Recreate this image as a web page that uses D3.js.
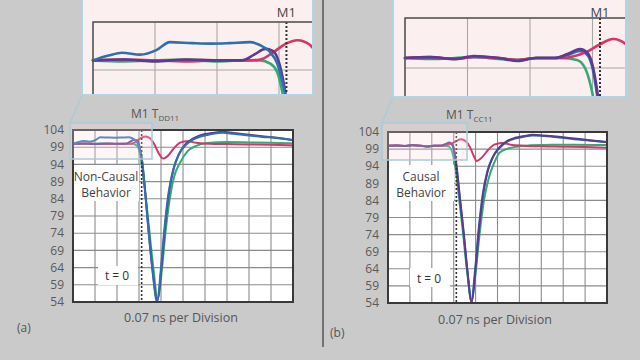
<!DOCTYPE html>
<html><head><meta charset="utf-8">
<script src="https://cdn.jsdelivr.net/npm/d3@7"></script>
<style>
body{margin:0;background:#cacaca;}
svg{display:block;font-family:"Open Sans",sans-serif;}
</style>
</head><body><svg width="640" height="360"></svg>
<script>
// ---------- data ----------
const yTicks = [104, 99, 94, 89, 84, 79, 74, 69, 64, 59, 54];
const divisions = [0, 1, 2, 3, 4, 5, 6, 7, 8, 9, 10];
const m1Division = 3.12;
const xAxisLabel = "0.07 ns per Division";

// (a) non-causal: [division, value]
const aBlue = [[0,100.0],[0.25,100.5],[0.47,100.8],[0.76,100.6],[1.03,101.1],[1.24,101.9],[1.6,101.8],[1.9,101.75],[2.2,101.8],[2.53,101.9],[2.69,101.6],[2.85,100.9],[2.97,99.7],[3.06,97.6],[3.13,95.5],[3.25,88],[3.4,77],[3.6,64],[3.82,54],[4.0,64],[4.15,75],[4.35,86],[4.55,92.4],[4.8,96.8],[5.1,99.5],[5.45,101.2],[5.8,102.1],[6.3,102.8],[6.8,103.2],[7.3,102.9],[8.0,102.4],[8.6,102.0],[9.2,101.7],[10,101.1]];
const aPurple = [[0,100.0],[0.5,100.1],[1.0,99.9],[1.5,100.1],[2.0,100.0],[2.4,100.0],[2.6,100.6],[2.78,101.2],[2.9,101.0],[3.0,99.8],[3.08,97.5],[3.15,94.5],[3.27,87],[3.42,76],[3.62,63],[3.84,54.3],[4.02,64],[4.17,75],[4.37,86],[4.57,92.6],[4.82,97],[5.1,99.8],[5.45,101.5],[5.8,102.5],[6.3,103.1],[6.8,103.5],[7.3,103.1],[8.0,102.6],[8.6,102.2],[9.2,101.8],[10,101.0]];
const aGreen = [[0,100.0],[0.5,99.9],[1.0,100.0],[1.5,100.1],[2.0,99.9],[2.4,100.0],[2.7,100.0],[2.85,99.7],[2.97,98.8],[3.06,96.5],[3.15,93],[3.28,86],[3.45,76],[3.65,64],[3.85,55],[4.05,64],[4.2,74],[4.4,84],[4.6,90.5],[4.85,94.3],[5.2,97.8],[5.6,99.4],[6.1,100.2],[7.0,100.5],[8.0,100.4],[9.0,100.3],[10,100.1]];
const aPink = [[0,100.0],[0.5,100.1],[1.0,100.0],[1.5,99.9],[2.0,100.0],[2.5,100.0],[2.7,100.1],[2.9,100.8],[3.1,101.7],[3.3,102.1],[3.5,101.6],[3.7,99.8],[3.9,97.2],[4.1,95.7],[4.3,96.4],[4.6,98.8],[4.9,100.4],[5.2,100.7],[5.6,100.3],[6.2,100.0],[7.0,99.9],[8.0,99.8],[9.0,99.7],[10,99.5]];

// (b) causal
const bBlue = [[0,100.0],[0.4,100.0],[0.8,99.9],[1.1,100.1],[1.5,100.0],[1.8,99.8],[2.1,100.0],[2.4,100.0],[2.6,100.3],[2.8,100.7],[2.92,100.3],[3.0,99.0],[3.08,96],[3.15,92.5],[3.28,84.5],[3.45,74.5],[3.62,63.5],[3.8,54.2],[3.98,64],[4.13,75],[4.33,86],[4.53,92.3],[4.78,96.6],[5.1,99.4],[5.45,101.2],[5.8,102.1],[6.2,102.6],[6.6,103.0],[7.1,102.8],[7.8,102.4],[8.5,101.9],[9.2,101.5],[10,101.0]];
const bPurple = [[0,100.0],[0.4,100.1],[0.8,99.9],[1.1,100.2],[1.5,100.0],[1.8,99.7],[2.1,100.0],[2.4,100.0],[2.6,100.4],[2.8,100.9],[2.92,100.5],[3.0,99.3],[3.08,96.5],[3.15,93],[3.28,85],[3.45,75],[3.62,64],[3.82,54.2],[4.0,64],[4.15,75],[4.35,86],[4.55,92.5],[4.8,96.8],[5.1,99.6],[5.45,101.4],[5.8,102.3],[6.2,102.8],[6.6,103.2],[7.1,103.0],[7.8,102.6],[8.5,102.1],[9.2,101.6],[10,101.1]];
const bGreen = [[0,100.0],[0.4,99.9],[0.8,100.0],[1.1,100.1],[1.5,99.9],[1.8,99.8],[2.1,100.0],[2.5,100.0],[2.75,99.8],[2.88,99.0],[2.98,97],[3.08,93.5],[3.22,86],[3.4,76],[3.6,64],[3.82,55],[4.02,64],[4.18,74],[4.38,84],[4.6,90.5],[4.85,95],[5.1,98.0],[5.5,99.2],[5.85,99.7],[6.5,100.1],[7.5,100.3],[8.5,100.3],[10,100.2]];
const bPink = [[0,100.0],[0.4,100.1],[0.8,99.9],[1.1,100.1],[1.5,100.0],[1.8,99.8],[2.1,100.0],[2.5,100.0],[2.65,100.1],[2.9,100.6],[3.1,101.3],[3.33,101.9],[3.55,101.3],[3.75,99.5],[3.9,97.2],[4.05,95.5],[4.25,96.3],[4.55,98.6],[4.85,100.3],[5.2,100.8],[5.6,100.3],[6.2,100.0],[7.0,99.8],[8.0,99.7],[9.0,99.6],[10,99.4]];

const seriesColors = {blue:"#2f6fae", purple:"#5b3b8e", green:"#35a974", pink:"#d8336b"};

const panels = [
  {key:"a", label:"(a)", behavior:["Non-Causal","Behavior"], tsub:"DD11",
   series:[["green",aGreen],["pink",aPink],["purple",aPurple],["blue",aBlue]],
   plot:{x0:73,x1:293,y0:130,y1:302},
   inset:{x:82,y:-6,w:231,h:101, px0:93, pxStep:62, py0:22, pyUnit:9.6},
   smallBox:{x:70,y:123,w:82,h:36},
   labelPos:{a:[17,332], t0:[117,276], axis:[181,322], m1:[131,118], behY:[177,193], behBox:[73,165,66,36], tBox:[98,266,40,19]}},
  {key:"b", label:"(b)", behavior:["Causal","Behavior"], tsub:"CC11",
   series:[["green",bGreen],["blue",bBlue],["pink",bPink],["purple",bPurple]],
   plot:{x0:388,x1:607,y0:132,y1:303},
   inset:{x:393,y:-6,w:233,h:103, px0:405, pxStep:62.5, py0:18, pyUnit:10.0},
   smallBox:{x:382,y:123,w:85,h:37},
   labelPos:{a:[330,337], t0:[429,279], axis:[495,324], m1:[446,119], behY:[177,193], behBox:[388,165,66,36], tBox:[410,268,40,19]}}
];

const svg = d3.select("svg");
svg.append("rect").attr("width",640).attr("height",360).attr("fill","#cacaca");

function drawPlot(g, x, y, o){
  g.append("rect").attr("x",x(0)).attr("y",y(104)).attr("width",x(10)-x(0)).attr("height",y(54)-y(104)).attr("fill",o.bg);
  g.append("g").selectAll("line").data(yTicks).join("line")
    .attr("x1",x(0)).attr("x2",x(10)).attr("y1",d=>y(d)).attr("y2",d=>y(d))
    .attr("stroke",o.grid).attr("stroke-width",o.gridW);
  g.append("g").selectAll("line").data(divisions).join("line")
    .attr("x1",d=>x(d)).attr("x2",d=>x(d)).attr("y1",y(104)).attr("y2",y(54))
    .attr("stroke",o.grid).attr("stroke-width",o.gridW);
  if (o.before) o.before(g);
  const line = d3.line().x(d=>x(d[0])).y(d=>y(d[1])).curve(d3.curveMonotoneX);
  g.append("g").selectAll("path").data(o.series).join("path")
    .attr("d",d=>line(d[1])).attr("fill","none")
    .attr("stroke",d=>seriesColors[d[0]]).attr("stroke-width",o.lineW)
    .attr("stroke-linejoin","round").attr("stroke-linecap","round");
  g.append("line").attr("x1",x(m1Division)).attr("x2",x(m1Division)).attr("y1",y(104)).attr("y2",y(54))
    .attr("stroke","#333").attr("stroke-width",o.dotW).attr("stroke-dasharray","2,2");
  g.append("rect").attr("x",x(0)).attr("y",y(104)).attr("width",x(10)-x(0)).attr("height",y(54)-y(104))
    .attr("fill","none").attr("stroke",o.border).attr("stroke-width",o.borderW);
}

panels.forEach(p=>{
  const P = p.plot, L = p.labelPos;
  const x = d3.scaleLinear().domain([0,10]).range([P.x0,P.x1]);
  const y = d3.scaleLinear().domain([54,104]).range([P.y1,P.y0]);
  const g = svg.append("g");
  drawPlot(g, x, y, {bg:"#fff", grid:"#8c8c8c", gridW:1.1, lineW:2, dotW:1.6, border:"#3a3a3a", borderW:2, series:p.series,
    before: gg=>{
      gg.append("rect").attr("x",L.behBox[0]).attr("y",L.behBox[1]).attr("width",L.behBox[2]).attr("height",L.behBox[3]).attr("fill","#fff");
      gg.append("rect").attr("x",L.tBox[0]).attr("y",L.tBox[1]).attr("width",L.tBox[2]).attr("height",L.tBox[3]).attr("fill","#fff");
    }});
  // y tick labels
  g.append("g").selectAll("text").data(yTicks).join("text")
    .attr("x",P.x0-9).attr("y",d=>y(d)).attr("dy","0.35em").attr("text-anchor","end")
    .attr("font-size",12).attr("fill","#5a5a5a").text(d=>d);
  // behaviour text
  g.append("g").selectAll("text").data(p.behavior).join("text")
    .attr("x",L.behBox[0]+L.behBox[2]/2).attr("y",(d,i)=>L.behY[i]+4).attr("text-anchor","middle")
    .attr("font-size",12).attr("fill","#444").text(d=>d);
  g.append("text").attr("x",L.t0[0]).attr("y",L.t0[1]+4).attr("text-anchor","middle").attr("font-size",12).attr("fill","#333").text("t = 0");
  g.append("text").attr("x",L.axis[0]).attr("y",L.axis[1]).attr("text-anchor","middle").attr("font-size",12.5).attr("fill","#555").text(xAxisLabel);
  g.append("text").attr("x",L.a[0]).attr("y",L.a[1]).attr("font-size",12).attr("fill","#555").text(p.label);
  const m1 = g.append("text").attr("x",L.m1[0]).attr("y",L.m1[1]).attr("font-size",12).attr("fill","#555");
  m1.append("tspan").text("M1  T");
  m1.append("tspan").attr("font-size",8).attr("dy",3).text(p.tsub);

  // small zoom box
  const S = p.smallBox, I = p.inset;
  g.append("rect").attr("x",S.x).attr("y",S.y).attr("width",S.w).attr("height",S.h)
    .attr("fill","rgba(250,215,222,0.25)").attr("stroke","#a9cadb").attr("stroke-width",1.5);
  g.append("line").attr("x1",S.x).attr("y1",S.y).attr("x2",I.x).attr("y2",I.y+I.h)
    .attr("stroke","#a9cadb").attr("stroke-width",1.2);

  // inset
  const clipId = "clip-"+p.key;
  svg.append("clipPath").attr("id",clipId).append("rect").attr("x",I.x).attr("y",I.y).attr("width",I.w).attr("height",I.h);
  const ig = svg.append("g");
  ig.append("rect").attr("x",I.x).attr("y",I.y).attr("width",I.w).attr("height",I.h).attr("fill","#fcefef");
  const xi = d3.scaleLinear().domain([0,10]).range([I.px0, I.px0+10*I.pxStep]);
  const yi = d3.scaleLinear().domain([54,104]).range([I.py0+50*I.pyUnit, I.py0]);
  const cg = ig.append("g").attr("clip-path",`url(#${clipId})`);
  drawPlot(cg, xi, yi, {bg:"#fcefef", grid:"#a8a8a8", gridW:1.1, lineW:2.6, dotW:2, border:"#555", borderW:1.5, series:p.series});
  ig.append("text").attr("x",xi(m1Division)).attr("y",17).attr("text-anchor","middle").attr("font-size",13).attr("fill","#444").text("M1");
  ig.append("rect").attr("x",I.x).attr("y",I.y).attr("width",I.w).attr("height",I.h)
    .attr("fill","none").attr("stroke","#b3d4e4").attr("stroke-width",2);
});

// divider
svg.append("line").attr("x1",323).attr("x2",323).attr("y1",0).attr("y2",347).attr("stroke","#555").attr("stroke-width",1.5);
</script>
</body></html>
